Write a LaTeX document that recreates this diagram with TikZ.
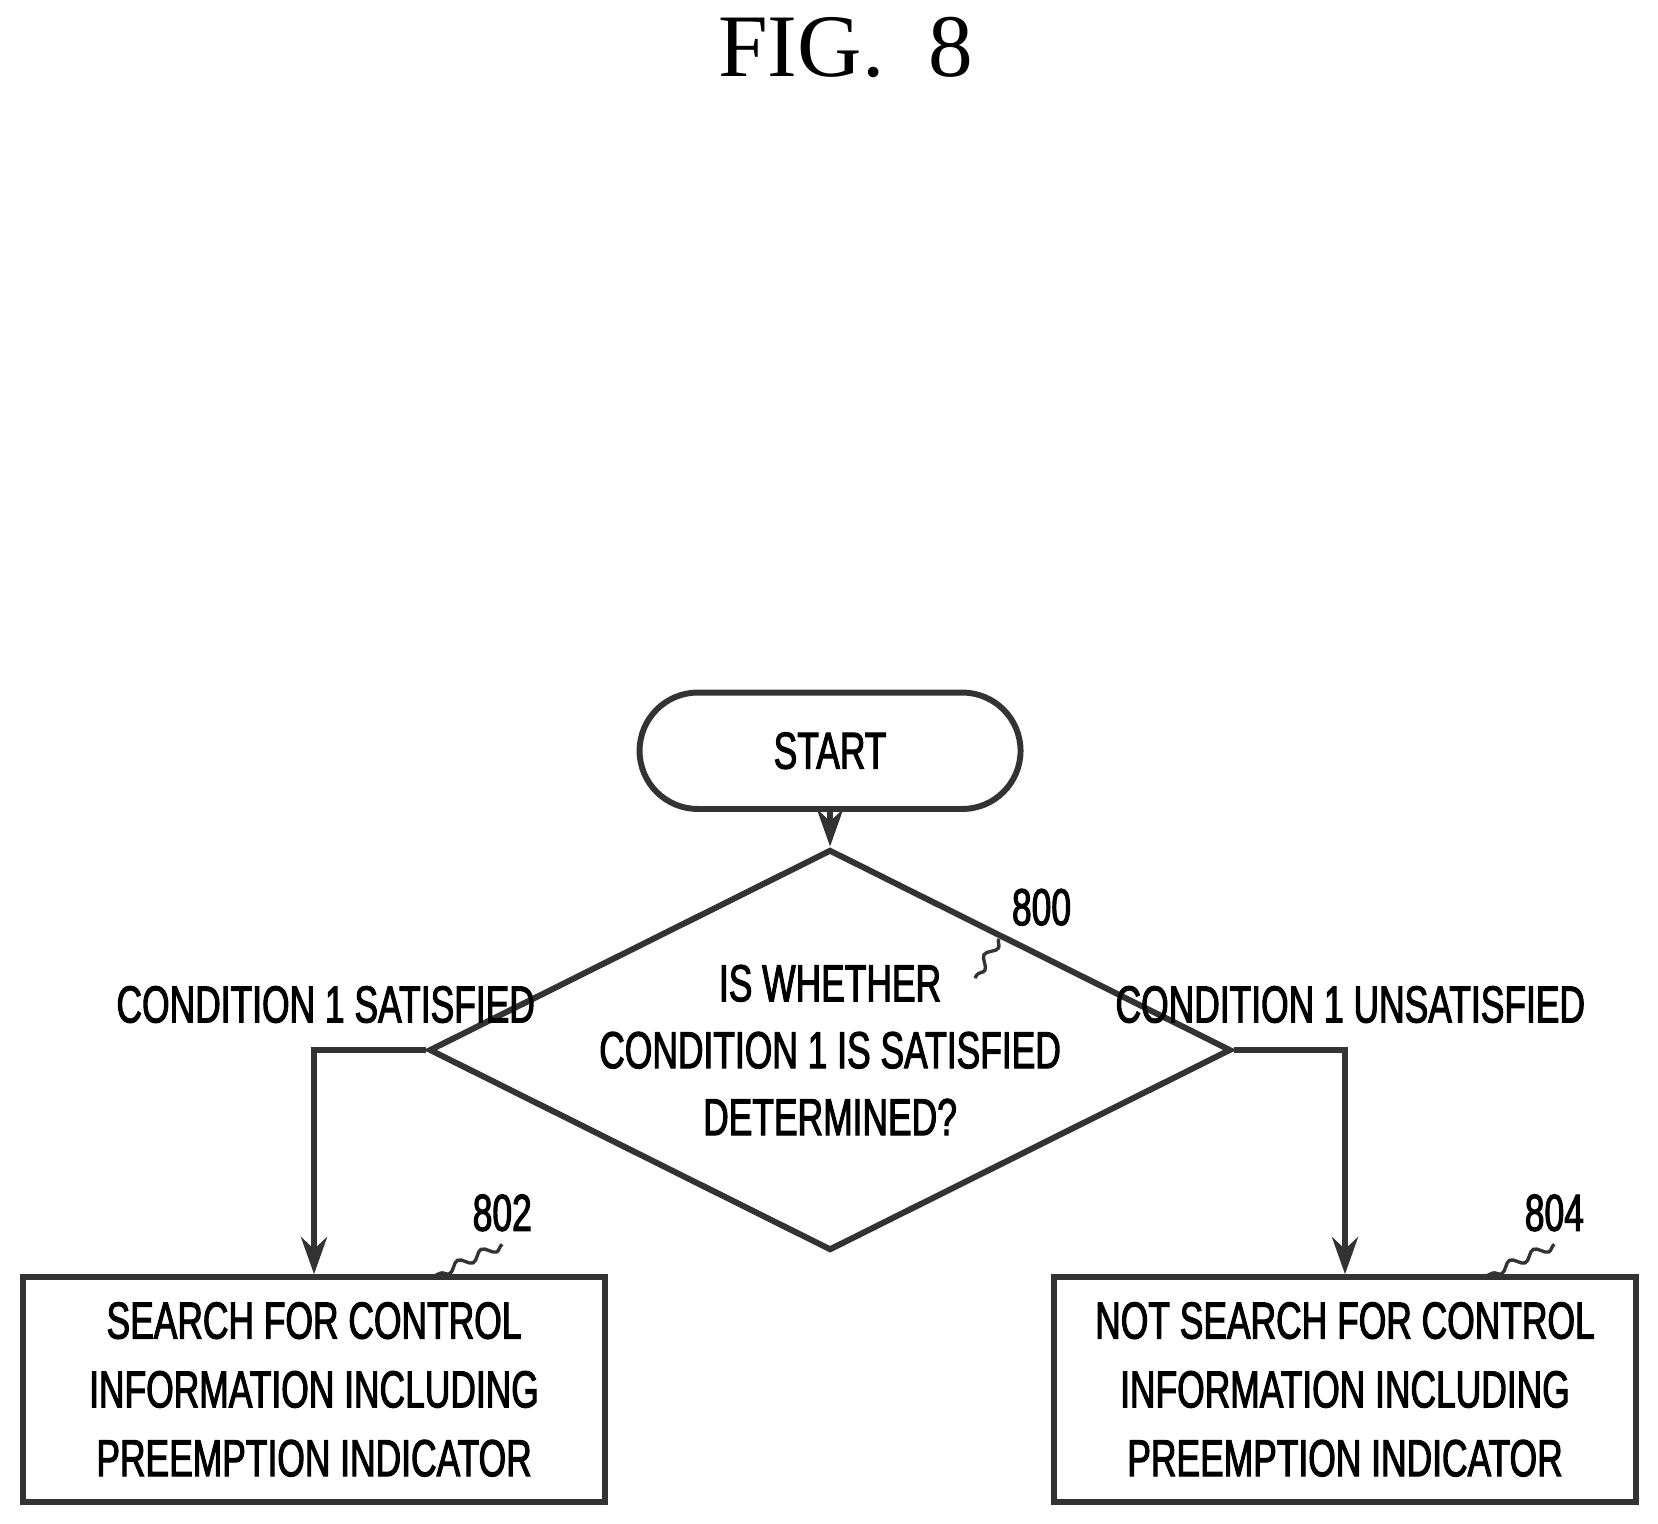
\documentclass[tikz,border=0pt]{standalone}
\usepackage{fontspec}
\setmainfont[FakeStretch=0.68,FakeBold=2]{Liberation Sans}
\newfontfamily\figfont{Liberation Serif}
\usetikzlibrary{arrows.meta,shapes.geometric,decorations.pathmorphing}
\tikzset{
  flow/.style={draw=black!80, line width=1.6pt},
  terminal/.style={flow, rounded corners=55\unitpx, minimum width=360\unitpx, minimum height=110\unitpx, font=\fontsize{14}{18}\selectfont},
  decision/.style={flow, diamond, aspect=2, minimum width=546\unitpx, minimum height=273\unitpx, inner sep=0pt, align=center, font=\fontsize{14}{18}\selectfont},
  process/.style={flow, minimum width=550\unitpx, minimum height=212\unitpx, align=center, font=\fontsize{14}{18.5}\selectfont},
  link/.style={flow, -{Stealth[length=10pt,width=7pt]}},
  leader/.style={draw=black!80, line width=0.9pt, decorate, decoration={snake, amplitude=1.2pt, segment length=7pt}},
  tag/.style={font=\fontsize{14}{18}\selectfont},
  branch/.style={font=\fontsize{14}{18}\selectfont}
}
\newcommand{\unitpx}{pt*0.2846}
\begin{document}
\begin{tikzpicture}[x=0.01cm, y=-0.01cm]
  \useasboundingbox (0,0) rectangle (1568,1441);

  \node[font=\figfont\fontsize{24}{28}\selectfont] (title) at (800,45) {FIG.~~8};

  \node[terminal] (start) at (785,710) {START};
  \node[decision] (d800) at (785,993) {IS WHETHER\\CONDITION 1 IS SATISFIED\\DETERMINED?};
  \node[process] (b802) at (297,1314) {SEARCH FOR CONTROL\\INFORMATION INCLUDING\\PREEMPTION INDICATOR};
  \node[process] (b804) at (1272,1314) {NOT SEARCH FOR CONTROL\\INFORMATION INCLUDING\\PREEMPTION INDICATOR};

  % step numbers
  \node[tag] (n800) at (985,858) {800};
  \node[tag] (n802) at (475,1147) {802};
  \node[tag] (n804) at (1470,1147) {804};
  \coordinate (e800) at (922,925);
  \coordinate (e802) at (410,1207);
  \coordinate (e804) at (1405,1207);
  \draw[leader] (n800.south west) -- (e800);
  \draw[leader] (n802.south) -- (e802);
  \draw[leader] (n804.south) -- (e804);

  \node[branch] (yes) at (308,950) {CONDITION 1 SATISFIED};
  \node[branch] (no) at (1277,950) {CONDITION 1 UNSATISFIED};

  \draw[link] (start) -- (d800);
  \draw[link] (d800.west) -| (b802.north);
  \draw[link] (d800.east) -| (b804.north);
\end{tikzpicture}
\end{document}
